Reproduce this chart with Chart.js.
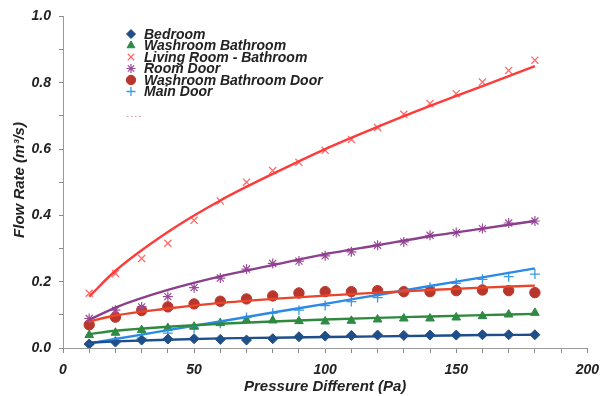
<!DOCTYPE html>
<html>
<head>
<meta charset="utf-8">
<script src="https://cdn.jsdelivr.net/npm/chart.js@4/dist/chart.umd.min.js"></script>
<style>
  html, body { margin: 0; padding: 0; background: #ffffff; }
  #wrap { width: 608px; height: 396px; position: relative; }
</style>
</head>
<body>
<div id="wrap"><canvas id="c" width="608" height="396"></canvas></div>
<script>
// ---- data ----
const pressure = [10, 20, 30, 40, 50, 60, 70, 80, 90, 100, 110, 120, 130, 140, 150, 160, 170, 180];
const bedroom = [0.012, 0.018, 0.024, 0.027, 0.028, 0.026, 0.024, 0.028, 0.034, 0.036, 0.038, 0.039, 0.038, 0.039, 0.039, 0.040, 0.040, 0.040];
const washroomBathroom = [0.039, 0.046, 0.054, 0.060, 0.064, 0.075, 0.084, 0.083, 0.081, 0.080, 0.082, 0.086, 0.089, 0.089, 0.092, 0.096, 0.101, 0.106];
const livingRoomBathroom = [0.165, 0.225, 0.270, 0.316, 0.385, 0.443, 0.500, 0.535, 0.560, 0.596, 0.629, 0.665, 0.705, 0.737, 0.767, 0.802, 0.837, 0.868];
const roomDoor = [0.089, 0.114, 0.124, 0.155, 0.182, 0.211, 0.238, 0.255, 0.262, 0.278, 0.290, 0.310, 0.320, 0.340, 0.348, 0.360, 0.377, 0.383];
const washroomBathroomDoor = [0.070, 0.093, 0.113, 0.124, 0.133, 0.141, 0.148, 0.157, 0.166, 0.170, 0.170, 0.173, 0.170, 0.170, 0.173, 0.175, 0.173, 0.167];
const mainDoor = [0.010, 0.020, 0.030, 0.045, 0.060, 0.075, 0.092, 0.105, 0.114, 0.128, 0.140, 0.152, 0.168, 0.183, 0.195, 0.207, 0.215, 0.223];

// trend lines at these pressures
const trendPressure = [10, 20, 40, 60, 80, 100, 120, 140, 160, 180];
const bedroomTrend = [0.016, 0.020, 0.025, 0.029, 0.031, 0.033, 0.035, 0.037, 0.039, 0.040];
const washroomBathroomTrend = [0.042, 0.052, 0.064, 0.073, 0.080, 0.086, 0.091, 0.095, 0.099, 0.103];
const livingRoomBathroomTrend = [0.155, 0.233, 0.350, 0.445, 0.525, 0.600, 0.667, 0.730, 0.790, 0.850];
const roomDoorTrend = [0.085, 0.122, 0.175, 0.216, 0.250, 0.283, 0.310, 0.337, 0.360, 0.383];
const washroomBathroomDoorTrend = [0.080, 0.098, 0.119, 0.136, 0.148, 0.158, 0.167, 0.175, 0.182, 0.188];
const mainDoorTrend = [0.014, 0.027, 0.054, 0.080, 0.107, 0.133, 0.160, 0.187, 0.213, 0.240];

const seriesNames = ["Bedroom", "Washroom Bathroom", "Living Room - Bathroom", "Room Door", "Washroom Bathroom Door", "Main Door"];
const xTitle = "Pressure Different (Pa)";
const yTitle = "Flow Rate (m\u00B3/s)";

// ---- styling ----
const FONT = "'Liberation Sans', Arial, sans-serif";
const pts = (xs, ys) => xs.map((x, i) => ({ x: x, y: ys[i] }));

const markerStyles = [
  { color: '#1f4f86', style: 'rectRot', r: 5, bw: 1 },
  { color: '#2f8a45', style: 'triangle', r: 5, bw: 1 },
  { color: '#ff6a6a', style: 'crossRot', r: 5, bw: 1.3 },
  { color: '#9a4c98', style: 'star', r: 5, bw: 1.2 },
  { color: '#b9362c', style: 'circle', r: 5.2, bw: 1 },
  { color: '#3b9be0', style: 'cross', r: 5, bw: 1.3 }
];
const lineColors = ['#1e4f8c', '#2f8a40', '#ff3a3a', '#8b3f8c', '#e8452a', '#2a8ae6'];

const dataSeries = [bedroom, washroomBathroom, livingRoomBathroom, roomDoor, washroomBathroomDoor, mainDoor];
const trendSeries = [bedroomTrend, washroomBathroomTrend, livingRoomBathroomTrend, roomDoorTrend, washroomBathroomDoorTrend, mainDoorTrend];

const datasets = [];
trendSeries.forEach((t, i) => {
  datasets.push({
    label: seriesNames[i] + ' trend',
    data: pts(trendPressure, t),
    showLine: true,
    borderColor: lineColors[i],
    borderWidth: 2.4,
    pointRadius: 0,
    cubicInterpolationMode: 'monotone',
    isTrend: true
  });
});
dataSeries.forEach((s, i) => {
  const m = markerStyles[i];
  datasets.push({
    label: seriesNames[i],
    data: pts(pressure, s),
    showLine: false,
    pointStyle: m.style,
    pointRadius: m.r,
    pointBorderWidth: m.bw,
    backgroundColor: m.color,
    borderColor: m.color,
    isTrend: false
  });
});

const legendPlugin = {
  id: 'customLegend',
  afterDraw(chart) {
    const ctx = chart.ctx;
    const list = chart.data.datasets.filter(d => !d.isTrend);
    ctx.save();
    const x0 = 131, y0 = 34, dy = 11.5;
    list.forEach((d, i) => {
      const y = y0 + i * dy;
      ctx.fillStyle = d.backgroundColor;
      ctx.strokeStyle = d.borderColor;
      ctx.lineWidth = d.pointBorderWidth;
      Chart.helpers.drawPoint(ctx, {
        pointStyle: d.pointStyle, radius: d.pointRadius - 0.5, rotation: 0, borderWidth: d.pointBorderWidth
      }, x0, y);
      ctx.font = "italic bold 14px " + FONT;
      ctx.fillStyle = '#222';
      ctx.textBaseline = 'middle';
      ctx.textAlign = 'left';
      ctx.fillText(d.label, 144, y + 1);
    });
    ctx.strokeStyle = '#e88aa8';
    ctx.lineWidth = 1;
    ctx.setLineDash([1.5, 2.5]);
    ctx.beginPath(); ctx.moveTo(127, 116.5); ctx.lineTo(141, 116.5); ctx.stroke();
    ctx.restore();
  }
};

const titlePlugin = {
  id: 'axisTitles',
  afterDraw(chart) {
    const ctx = chart.ctx;
    const area = chart.chartArea;
    ctx.save();
    ctx.fillStyle = '#222';
    ctx.font = "italic bold 15px " + FONT;
    ctx.textAlign = 'center';
    ctx.textBaseline = 'middle';
    ctx.fillText(xTitle, (area.left + area.right) / 2, 387);
    ctx.translate(20, 180);
    ctx.rotate(-Math.PI / 2);
    ctx.fillText(yTitle, 0, 0);
    ctx.restore();
  }
};

new Chart(document.getElementById('c'), {
  type: 'scatter',
  data: { datasets: datasets },
  options: {
    responsive: false,
    animation: false,
    events: [],
    layout: { padding: { top: 16, right: 20, left: 0, bottom: 0 } },
    plugins: { legend: { display: false }, tooltip: { enabled: false } },
    scales: {
      x: {
        type: 'linear', min: 0, max: 200,
        afterFit(scale) { scale.height = 48; },
        border: { display: true, color: '#9a9a9a', dash: [3, 2], width: 1 },
        grid: { display: true, drawOnChartArea: false, drawTicks: true, tickLength: 5, color: '#8a8a8a' },
        ticks: {
          stepSize: 10, autoSkip: false, maxRotation: 0, padding: 9,
          color: '#222', font: { family: FONT, size: 14, style: 'italic', weight: 'bold' },
          callback: v => (v % 50 === 0 ? String(v) : '')
        }
      },
      y: {
        type: 'linear', min: 0, max: 1.0,
        afterFit(scale) { scale.width = 63; },
        border: { display: true, color: '#9a9a9a', dash: [3, 2], width: 1 },
        grid: { display: true, drawOnChartArea: false, drawTicks: true, tickLength: 4, color: '#8a8a8a' },
        ticks: {
          stepSize: 0.1, autoSkip: false, padding: 8,
          color: '#222', font: { family: FONT, size: 14, style: 'italic', weight: 'bold' },
          callback: v => (Math.round(v * 10) % 2 === 0 ? v.toFixed(1) : '')
        }
      }
    }
  },
  plugins: [legendPlugin, titlePlugin]
});
</script>
</body>
</html>
